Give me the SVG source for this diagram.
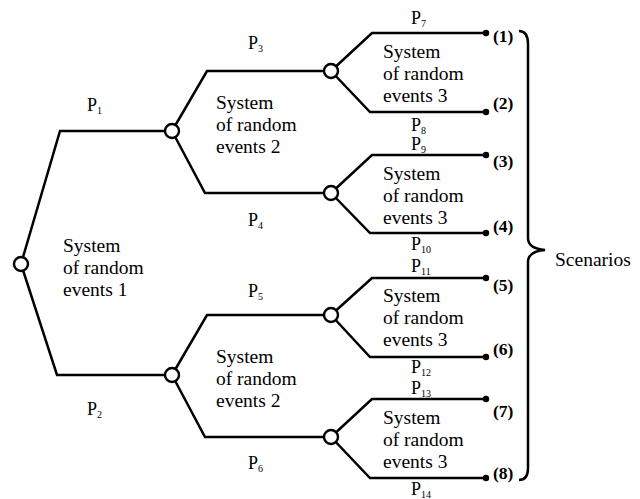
<svg xmlns="http://www.w3.org/2000/svg" width="640" height="499" viewBox="0 0 640 499">
<style>
.ln{fill:none;stroke:#000;stroke-width:2.5;stroke-linejoin:miter}
.nd{fill:#fff;stroke:#000;stroke-width:2.4}
.dot{fill:#000}
.t{font-family:"Liberation Serif","Times New Roman",serif;font-size:19.5px;fill:#000}
.p{font-family:"Liberation Serif","Times New Roman",serif;font-size:18px;fill:#000}
.s{font-size:10px}
.b{font-family:"Liberation Serif","Times New Roman",serif;font-size:17.5px;font-weight:bold;fill:#000}
</style>
<rect width="640" height="499" fill="#fff"/>
<g id="connectors">
<polyline class="ln" points="21,264 60,131 172,131"/>
<polyline class="ln" points="21,264 57,375 172,375"/>
<polyline class="ln" points="172,131 207,71 331,71"/>
<polyline class="ln" points="172,131 205,193 331,193"/>
<polyline class="ln" points="172,375 207,315 331,315"/>
<polyline class="ln" points="172,375 205,437 331,437"/>
<polyline class="ln" points="331,71 372,33 486,33"/>
<polyline class="ln" points="331,71 370,112 486,112"/>
<polyline class="ln" points="331,193 372,155 486,155"/>
<polyline class="ln" points="331,193 370,233 486,233"/>
<polyline class="ln" points="331,315 372,278 486,278"/>
<polyline class="ln" points="331,315 370,357 486,357"/>
<polyline class="ln" points="331,437 372,399 486,399"/>
<polyline class="ln" points="331,437 370,478 486,478"/>
</g>
<g id="labels-p">
<text class="p" x="87" y="111">P<tspan class="s" dy="3">1</tspan></text>
<text class="p" x="87" y="415">P<tspan class="s" dy="3">2</tspan></text>
<text class="p" x="248" y="49">P<tspan class="s" dy="3">3</tspan></text>
<text class="p" x="248" y="226">P<tspan class="s" dy="3">4</tspan></text>
<text class="p" x="248" y="297">P<tspan class="s" dy="3">5</tspan></text>
<text class="p" x="248" y="469">P<tspan class="s" dy="3">6</tspan></text>
<text class="p" x="411" y="24">P<tspan class="s" dy="3">7</tspan></text>
<text class="p" x="411" y="131">P<tspan class="s" dy="3">8</tspan></text>
<text class="p" x="411" y="150">P<tspan class="s" dy="3">9</tspan></text>
<text class="p" x="411" y="250">P<tspan class="s" dy="3">10</tspan></text>
<text class="p" x="411" y="272">P<tspan class="s" dy="3">11</tspan></text>
<text class="p" x="411" y="373">P<tspan class="s" dy="3">12</tspan></text>
<text class="p" x="411" y="394">P<tspan class="s" dy="3">13</tspan></text>
<text class="p" x="411" y="495">P<tspan class="s" dy="3">14</tspan></text>
</g>
<g id="node-root">
<circle class="nd" cx="21" cy="264" r="7"/>
<text class="t" x="63" y="252">System</text>
<text class="t" x="63" y="274">of random</text>
<text class="t" x="63" y="296">events 1</text>
</g>
<g id="node-2a">
<circle class="nd" cx="172" cy="131" r="7"/>
<text class="t" x="216" y="109">System</text>
<text class="t" x="216" y="131">of random</text>
<text class="t" x="216" y="153">events 2</text>
</g>
<g id="node-2b">
<circle class="nd" cx="172" cy="375" r="7"/>
<text class="t" x="216" y="363">System</text>
<text class="t" x="216" y="385">of random</text>
<text class="t" x="216" y="407">events 2</text>
</g>
<g id="node-3a">
<circle class="nd" cx="331" cy="71" r="7"/>
<text class="t" x="383" y="58">System</text>
<text class="t" x="383" y="80">of random</text>
<text class="t" x="383" y="102">events 3</text>
</g>
<g id="node-3b">
<circle class="nd" cx="331" cy="193" r="7"/>
<text class="t" x="383" y="180">System</text>
<text class="t" x="383" y="202">of random</text>
<text class="t" x="383" y="224">events 3</text>
</g>
<g id="node-3c">
<circle class="nd" cx="331" cy="315" r="7"/>
<text class="t" x="383" y="302">System</text>
<text class="t" x="383" y="324">of random</text>
<text class="t" x="383" y="346">events 3</text>
</g>
<g id="node-3d">
<circle class="nd" cx="331" cy="437" r="7"/>
<text class="t" x="383" y="424">System</text>
<text class="t" x="383" y="446">of random</text>
<text class="t" x="383" y="468">events 3</text>
</g>
<g id="leaf-1"><circle class="dot" cx="486" cy="33" r="3.2"/><text class="b" x="493" y="42">(1)</text></g>
<g id="leaf-2"><circle class="dot" cx="486" cy="112" r="3.2"/><text class="b" x="493" y="109">(2)</text></g>
<g id="leaf-3"><circle class="dot" cx="486" cy="155" r="3.2"/><text class="b" x="493" y="167">(3)</text></g>
<g id="leaf-4"><circle class="dot" cx="486" cy="233" r="3.2"/><text class="b" x="493" y="232">(4)</text></g>
<g id="leaf-5"><circle class="dot" cx="486" cy="278" r="3.2"/><text class="b" x="493" y="291">(5)</text></g>
<g id="leaf-6"><circle class="dot" cx="486" cy="357" r="3.2"/><text class="b" x="493" y="355">(6)</text></g>
<g id="leaf-7"><circle class="dot" cx="486" cy="399" r="3.2"/><text class="b" x="493" y="417">(7)</text></g>
<g id="leaf-8"><circle class="dot" cx="486" cy="478" r="3.2"/><text class="b" x="493" y="479">(8)</text></g>
<g id="scenarios">
<path class="ln" d="M519,31 C526,31 528,36 528,44 L528,238 C528,245 533,249 545,250 C533,251 528,255 528,262 L528,468 C528,475 526,480 519,480"/>
<text class="t" x="555" y="266">Scenarios</text>
</g>
</svg>
